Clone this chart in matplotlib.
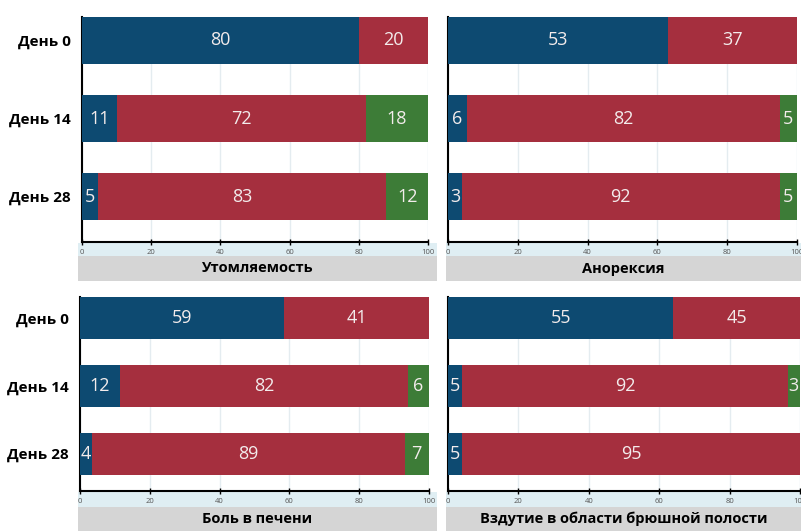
import matplotlib
matplotlib.use('Agg')
import matplotlib.pyplot as plt
from matplotlib.patches import Rectangle

plt.rcParams['font.family'] = ['Open Sans', 'DejaVu Sans']

# данные
days = ['День 0', 'День 14', 'День 28']
titles = ['Утомляемость', 'Анорексия', 'Боль в печени',
          'Вздутие в области брюшной полости']
ticks = [0, 20, 40, 60, 80, 100]

# длины сегментов, как нарисовано на графике: синий / красный / зелёный
blue = [[80, 10, 4.5], [63, 5.5, 4], [58.5, 11.5, 3.5], [64, 4, 4]]
red = [[20, 72, 83.5], [37, 89.5, 91], [41.5, 82.5, 89.5], [36, 92.5, 96]]
green = [[0, 18, 12], [0, 5, 5], [0, 6, 7], [0, 3.5, 0]]

# подписи, как напечатано на сегментах
blue_txt = [['80', '11', '5'], ['53', '6', '3'], ['59', '12', '4'], ['55', '5', '5']]
red_txt = [['20', '72', '83'], ['37', '82', '92'], ['41', '82', '89'], ['45', '92', '95']]
green_txt = [['', '18', '12'], ['', '5', '5'], ['', '6', '7'], ['', '3', '']]

C_BLUE = '#0d4a71'
C_RED = '#a52f3e'
C_GREEN = '#3d7c37'
C_TXT = '#f3ecec'

W, H = 801, 531
fig = plt.figure(figsize=(W / 100, H / 100), dpi=100)


def px(x0, y0, x1, y1):
    # пиксели -> доли фигуры
    return [x0 / W, 1 - y1 / H, (x1 - x0) / W, (y1 - y0) / H]


# [left, top, right, bottom] в пикселях
boxes = [(82, 17, 428, 242), (448, 17, 797, 242),
         (80, 297, 429, 491), (448, 297, 800, 491)]
bands = [(78, 437, 242, 256, 281), (446, 801, 242, 256, 281),
         (78, 437, 491, 507, 531), (446, 801, 491, 507, 531)]

for k in range(4):
    ax = fig.add_axes(px(*boxes[k]))
    top_row = k < 2
    bh = 0.6 if top_row else 0.62
    y = range(len(days))
    b = blue[k]
    r = red[k]
    g = green[k]
    left_g = [b[i] + r[i] for i in y]
    ax.barh(y, b, height=bh, color=C_BLUE, zorder=3)
    ax.barh(y, r, left=b, height=bh, color=C_RED, zorder=3)
    ax.barh(y, g, left=left_g, height=bh, color=C_GREEN, zorder=3)

    for i in y:
        segs = [(0, b[i], blue_txt[k][i]), (b[i], r[i], red_txt[k][i]),
                (left_g[i], g[i], green_txt[k][i])]
        for st, w, t in segs:
            if t:
                ax.text(st + w / 2, i, t, ha='center', va='center',
                        fontsize=13, color=C_TXT, zorder=4)

    ax.set_xlim(0, 100)
    if top_row:
        ax.set_ylim(2.58, -0.3)
    else:
        ax.set_ylim(2.55, -0.31)
    ax.set_xticks(ticks)
    ax.set_xticklabels([str(t) for t in ticks], fontsize=5.5, color='#555555')
    ax.tick_params(axis='x', direction='inout', length=4, width=1, pad=3)
    ax.set_yticks(list(y))
    if k % 2 == 0:
        ax.set_yticklabels(days, fontsize=11, fontweight='bold')
        ax.tick_params(axis='y', length=0, pad=8)
    else:
        ax.set_yticklabels([])
        ax.tick_params(axis='y', length=0)
    ax.xaxis.grid(True, color='#e4ecf0', lw=1, zorder=0)
    ax.set_axisbelow(True)
    for s in ['top', 'right']:
        ax.spines[s].set_visible(False)
    ax.spines['left'].set_linewidth(1.5)
    ax.spines['bottom'].set_linewidth(1.5)

    x0, x1, ya, yb, yc = bands[k]
    fig.add_artist(Rectangle(px(x0, ya + 1, x1, yb)[:2], (x1 - x0) / W, (yb - ya - 1) / H,
                             transform=fig.transFigure, facecolor='#dfeef3',
                             edgecolor='none', zorder=-1))
    fig.add_artist(Rectangle(px(x0, yb, x1, yc)[:2], (x1 - x0) / W, (yc - yb) / H,
                             transform=fig.transFigure, facecolor='#d5d5d5',
                             edgecolor='none', zorder=-1))
    fig.text((x0 + x1) / 2 / W, 1 - (yb + yc) / 2 / H, titles[k],
             ha='center', va='center', fontsize=10.5, fontweight='bold')

fig.savefig('out.png', dpi=100)
